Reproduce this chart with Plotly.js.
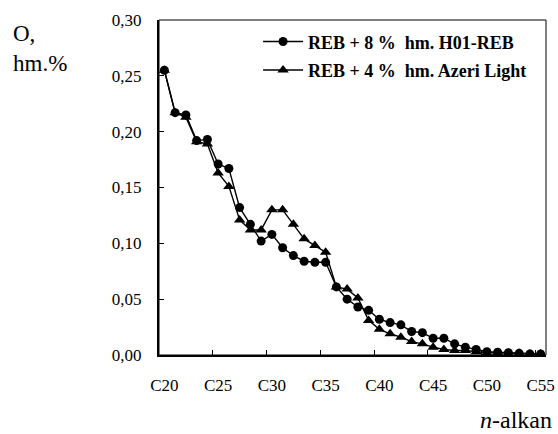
<!DOCTYPE html>
<html>
<head>
<meta charset="utf-8">
<script src="https://cdn.plot.ly/plotly-3.0.1.min.js"></script>
<style>html,body{margin:0;padding:0;background:#fff;}#chart{width:558px;height:434px;}</style>
</head>
<body>
<div id="chart"></div>
<script>
const carbon = [20,21,22,23,24,25,26,27,28,29,30,31,32,33,34,35,36,37,38,39,40,41,42,43,44,45,46,47,48,49,50,51,52,53,54,55];
const seriesNames = ['REB + 8 %\u00a0 hm. H01-REB', 'REB + 4 %\u00a0 hm. Azeri Light'];
const h01 = [0.255,0.217,0.215,0.192,0.193,0.171,0.167,0.132,0.117,0.102,0.108,0.096,0.089,0.084,0.083,0.083,0.061,0.050,0.043,0.040,0.032,0.029,0.027,0.021,0.020,0.015,0.015,0.010,0.007,0.005,0.003,0.0025,0.002,0.0015,0.001,0.001];
const azeri = [0.255,0.217,0.213,0.191,0.189,0.163,0.151,0.121,0.112,0.112,0.130,0.130,0.117,0.104,0.098,0.092,0.061,0.059,0.051,0.031,0.023,0.019,0.016,0.012,0.010,0.007,0.005,0.004,0.004,0.003,0.002,0.002,0.0015,0.0015,0.001,0.001];
const tickCarbon = [20,25,30,35,40,45,50,55];
const tickLabels = ['C20','C25','C30','C35','C40','C45','C50','C55'];
const yTitle = 'O,<br>hm.%';
const xTitle = '<i>n</i>-alkan';

const font = 'Liberation Serif, Times New Roman, serif';
const xr = [carbon[0]-0.5, carbon[carbon.length-1]+0.5];
const boundaries = tickCarbon.map(v => v - 0.5);

const traces = [
  {x: carbon, y: h01, name: seriesNames[0], mode: 'lines+markers', legendgroup: 'a',
   line: {color: '#000', width: 1.4}, marker: {symbol: 'circle', size: 9, color: '#000'}},
  {x: carbon, y: azeri, name: seriesNames[1], mode: 'lines+markers', legendgroup: 'b', xaxis: 'x2',
   line: {color: '#000', width: 1.4}, marker: {symbol: 'triangle-up', size: 10, color: '#000'}}
];

const layout = {
  width: 558, height: 434,
  margin: {l: 159, r: 12, t: 20, b: 79},
  paper_bgcolor: '#fff', plot_bgcolor: '#fff',
  separators: ',.',
  font: {family: font, size: 17, color: '#000'},
  showlegend: true,
  legend: {x: 0.256, y: 0.99, xanchor: 'left', yanchor: 'top', bgcolor: 'rgba(0,0,0,0)',
           font: {family: font, size: 18, color: '#000', weight: 'bold'}, tracegroupgap: 2, itemwidth: 40},
  xaxis: {range: xr, tickvals: tickCarbon, ticktext: tickLabels, ticks: '', showgrid: false, zeroline: false,
          showline: true, linecolor: '#000', linewidth: 2, ticklabelstandoff: 14,
          tickfont: {family: font, size: 17, color: '#000'}},
  xaxis2: {range: xr, overlaying: 'x', anchor: 'y', side: 'bottom', tickvals: boundaries, ticks: 'inside',
           ticklen: 5, tickwidth: 1, tickcolor: '#000', showticklabels: false, showgrid: false, zeroline: false, showline: false},
  yaxis: {range: [0, 0.30], dtick: 0.05, tickformat: '.2f', ticks: 'inside', ticklen: 5, tickwidth: 1, tickcolor: '#000',
          showgrid: false, zeroline: false, showline: true, linecolor: '#000', linewidth: 2, ticklabelstandoff: 12,
          tickfont: {family: font, size: 17, color: '#000'}},
  shapes: [{type: 'rect', xref: 'paper', yref: 'paper', x0: 0, x1: 1, y0: 0, y1: 1, line: {color: '#000', width: 1}}],
  annotations: [
    {text: yTitle, xref: 'paper', yref: 'paper', x: -0.382, y: 1.003, xanchor: 'left', yanchor: 'top', align: 'left',
     showarrow: false, font: {family: font, size: 23, color: '#000'}},
    {text: xTitle, xref: 'paper', yref: 'paper', x: 1.02, y: -0.15, xanchor: 'right', yanchor: 'top',
     showarrow: false, font: {family: font, size: 24, color: '#000'}}
  ]
};

Plotly.newPlot('chart', traces, layout, {staticPlot: true, displayModeBar: false});
</script>
</body>
</html>
